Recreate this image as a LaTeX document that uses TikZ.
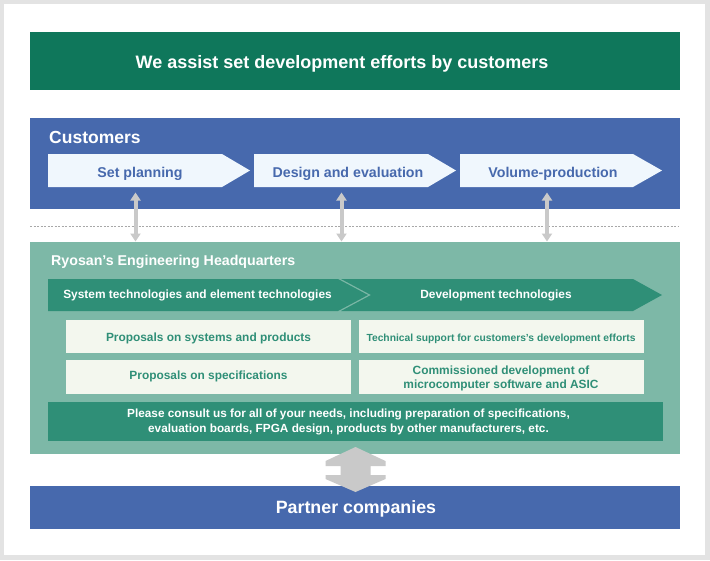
\documentclass[tikz,border=0pt]{standalone}
\usepackage{fontspec}
\setmainfont{Liberation Sans}
\usetikzlibrary{arrows.meta}
\definecolor{bggray}{HTML}{E3E3E3}
\definecolor{titlegreen}{HTML}{0F775B}
\definecolor{custblue}{HTML}{4769AD}
\definecolor{chevfill}{HTML}{F0F7FD}
\definecolor{hqgreen}{HTML}{7DB8A7}
\definecolor{darkgreen}{HTML}{2F8F77}
\definecolor{boxfill}{HTML}{F3F7EE}
\definecolor{arrgray}{HTML}{C9C9C9}
\definecolor{dashgray}{HTML}{A8A8A8}
\tikzset{
  px/.style={x=1pt,y=-1pt},
  fs/.style={font=\fontsize{#1}{#1}\selectfont\bfseries},
  whitetxt/.style={text=white,inner sep=0pt,anchor=base},
  chevtxt/.style={text=custblue,inner sep=0pt,fs=14.2,anchor=base},
  boxtxt/.style={text=darkgreen,inner sep=0pt,fs=11.9,anchor=base},
  linkarrow/.style={draw=arrgray,line width=4pt,{Triangle[width=10pt,length=8pt]}-{Triangle[width=10pt,length=8pt]}},
}
\begin{document}
\begin{tikzpicture}[px]
\useasboundingbox (0,0) rectangle (710,560);
\fill[bggray] (0,0) rectangle (710,560);
\fill[white] (4,4) rectangle (705,555);
% title
\fill[titlegreen] (30,32) rectangle (680,90);
\node[whitetxt,fs=18] (title) at (342,68) {We assist set development efforts by customers};
% customers
\fill[custblue] (30,118) rectangle (680,209);
\node[whitetxt,fs=17.5,anchor=base west] (cust) at (49,143) {Customers};
\fill[chevfill] (48,154) -- (222,154) -- (250,170.5) -- (222,187) -- (48,187) -- cycle;
\fill[chevfill] (254,154) -- (428,154) -- (456,170.5) -- (428,187) -- (254,187) -- cycle;
\fill[chevfill] (460,154) -- (633,154) -- (662,170.5) -- (633,187) -- (460,187) -- cycle;
\node[chevtxt] (c1) at (140,177) {Set planning};
\node[chevtxt] (c2) at (348,177) {Design and evaluation};
\node[chevtxt] (c3) at (553,177) {Volume-production};
% dashed separator
\draw[dashgray,dash pattern=on 2pt off 1.5pt,line width=0.6pt] (30,226) -- (678,226);
% HQ
\fill[hqgreen] (30,242) rectangle (680,454);
\node[whitetxt,fs=14.2,anchor=base west] (hq) at (51,265) {Ryosan's Engineering Headquarters};
\fill[darkgreen] (48,279) -- (338,279) -- (368,295) -- (338,311) -- (48,311) -- cycle;
\fill[darkgreen] (341,279) -- (633,279) -- (662,295) -- (633,311) -- (341,311) -- (371,295) -- cycle;
\node[whitetxt,fs=11.9] (b1) at (197.5,298.5) {System technologies and element technologies};
\node[whitetxt,fs=11.9] (b2) at (496,298.5) {Development technologies};
\fill[boxfill] (66,320) rectangle (351,353);
\fill[boxfill] (359,320) rectangle (644,353);
\fill[boxfill] (66,360) rectangle (351,394);
\fill[boxfill] (359,360) rectangle (644,394);
\node[boxtxt] (p1) at (208.5,341) {Proposals on systems and products};
\node[boxtxt,fs=10.3] (p2) at (501,341) {Technical support for customers's development efforts};
\node[boxtxt] (p3) at (208.5,379) {Proposals on specifications};
\node[boxtxt] (p4a) at (501,374.3) {Commissioned development of};
\node[boxtxt] (p4b) at (501,388.3) {microcomputer software and ASIC};
\fill[darkgreen] (48,402) rectangle (663,441);
\node[whitetxt,fs=11.8] (consult1) at (348.5,417.3) {Please consult us for all of your needs, including preparation of specifications,};
\node[whitetxt,fs=11.8] (consult2) at (348.5,432) {evaluation boards, FPGA design, products by other manufacturers, etc.};
% small link arrows
\coordinate (a1t) at (135.5,192.5); \coordinate (a1b) at (135.5,241.5);
\coordinate (a2t) at (341.5,192.5); \coordinate (a2b) at (341.5,241.5);
\coordinate (a3t) at (547,192.5); \coordinate (a3b) at (547,241.5);
\draw[linkarrow] (a1t) -- (a1b);
\draw[linkarrow] (a2t) -- (a2b);
\draw[linkarrow] (a3t) -- (a3b);
% partner
\fill[custblue] (30,486) rectangle (680,529);
\node[whitetxt,fs=17.8] (partner) at (356,513.3) {Partner companies};
% big arrow
\fill[arrgray] (355.5,447) -- (385.5,461) -- (385.5,466) -- (370.5,466) -- (370.5,475) -- (385.5,475) -- (385.5,479) -- (355.5,492) -- (325.5,479) -- (325.5,475) -- (340.5,475) -- (340.5,466) -- (325.5,466) -- (325.5,461) -- cycle;
\end{tikzpicture}
\end{document}
